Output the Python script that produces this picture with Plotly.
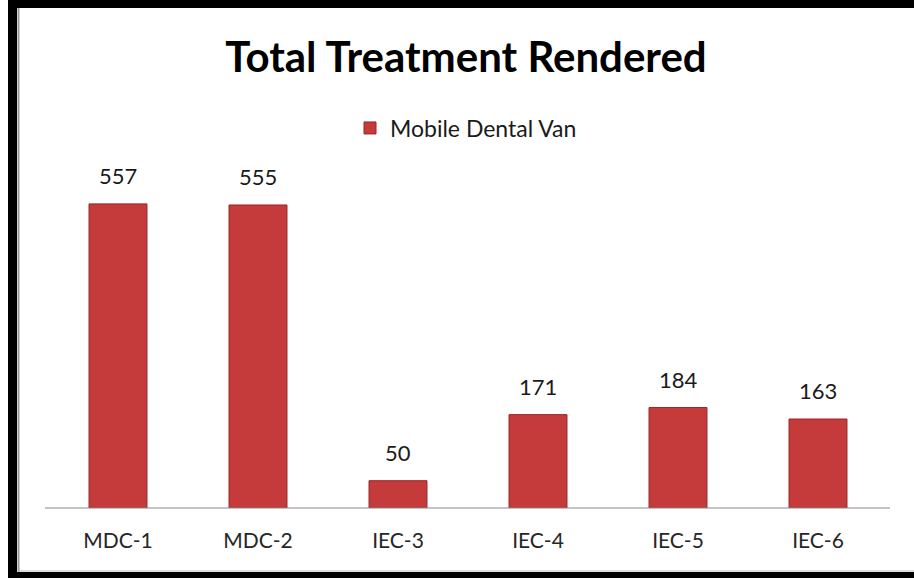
import plotly.graph_objects as go

categories = ["MDC-1", "MDC-2", "IEC-3", "IEC-4", "IEC-5", "IEC-6"]
values = [557, 555, 50, 171, 184, 163]
series_name = "Mobile Dental Van"
title_text = "Total Treatment Rendered"

W, H = 914, 578
L, R, T, B = 48, 26, 150, 70
pw, ph = W - L - R, H - T - B


def px_x(p):
    return (p - L) / pw


def px_y(p):
    return (H - B - p) / ph


fig = go.Figure()
fig.add_trace(go.Bar(
    x=categories, y=values, name=series_name,
    marker=dict(color="#C53B3B", line=dict(color="#9A2424", width=1)),
    showlegend=True,
))

for c, v in zip(categories, values):
    fig.add_annotation(x=c, y=v, text=str(v), showarrow=False,
                       yanchor="bottom", yshift=13,
                       font=dict(family="Lato", size=22, color="#1a1a1a"))

shapes = [
    # axis line
    dict(type="line", xref="paper", yref="paper", x0=px_x(45), x1=px_x(890), y0=0, y1=0,
         line=dict(color="#8a8a8a", width=1)),
    # frame
    dict(type="rect", xref="paper", yref="paper", x0=px_x(8), x1=px_x(17), y0=px_y(0), y1=px_y(578),
         fillcolor="black", line=dict(width=0)),
    dict(type="rect", xref="paper", yref="paper", x0=px_x(8), x1=px_x(914), y0=px_y(0), y1=px_y(8),
         fillcolor="black", line=dict(width=0)),
    dict(type="rect", xref="paper", yref="paper", x0=px_x(8), x1=px_x(914), y0=px_y(572), y1=px_y(578),
         fillcolor="black", line=dict(width=0)),
    dict(type="line", xref="paper", yref="paper", x0=px_x(18.5), x1=px_x(18.5), y0=px_y(8), y1=px_y(572),
         line=dict(color="#9a9a9a", width=2)),
    dict(type="line", xref="paper", yref="paper", x0=px_x(18), x1=px_x(914), y0=px_y(571), y1=px_y(571),
         line=dict(color="#bdbdbd", width=1)),
]

fig.update_layout(
    width=W, height=H,
    margin=dict(l=L, r=R, t=T, b=B),
    paper_bgcolor="white", plot_bgcolor="white",
    title=dict(text="<b>" + title_text + "</b>", x=466 / W, xanchor="center",
               y=1 - 57 / H, yanchor="middle",
               font=dict(family="Lato", size=42, color="#000000")),
    legend=dict(orientation="h", x=px_x(466), xanchor="center", y=px_y(128), yanchor="middle",
                font=dict(family="Lato", size=23, color="#1a1a1a"), bgcolor="rgba(0,0,0,0)",
                itemwidth=30),
    bargap=0.586,
    xaxis=dict(showgrid=False, showline=False, ticks="", zeroline=False,
               tickfont=dict(family="Lato", size=21, color="#262626"), ticklabelstandoff=18),
    yaxis=dict(range=[0, ph / 0.546], visible=False, showgrid=False, zeroline=False),
    shapes=shapes,
)

fig.write_html("out.html", config={"displayModeBar": False},
               post_script="document.body.style.margin='0';document.body.style.overflow='hidden';")
